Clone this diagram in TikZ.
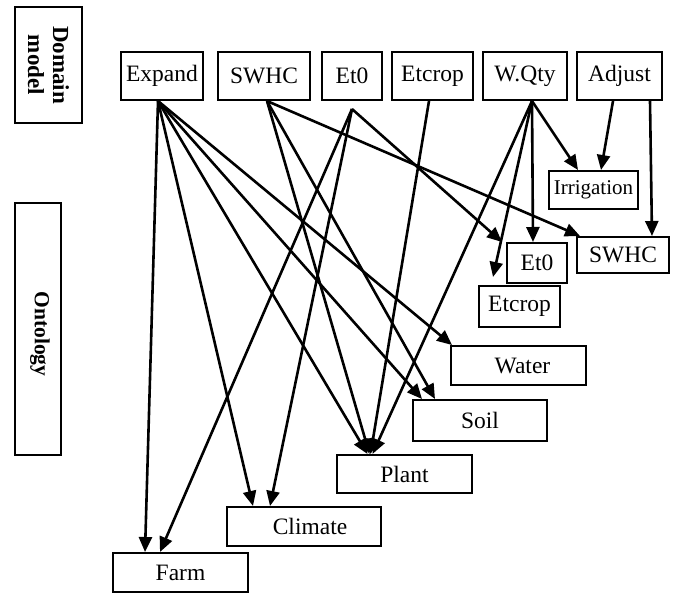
\documentclass[tikz,border=0pt]{standalone}
\usepackage{fontspec}
\setmainfont{Liberation Serif}
\usetikzlibrary{arrows.meta}
\begin{document}
\begin{tikzpicture}[x=1pt,y=-1pt,
  box/.style={draw=black,line width=2pt,inner sep=0pt,font=\fontsize{23.5}{27}\selectfont},
  lab/.style={draw=black,line width=2pt,inner sep=0pt},
  conn/.style={line width=2.6pt,-{Triangle[length=15pt,width=13pt]}}]
\useasboundingbox (0,0) rectangle (675,592);
% side labels
\node[lab,minimum width=67pt,minimum height=116pt] (dm) at (48.5,65) {};
\node[rotate=-90,align=center,font=\bfseries\fontsize{23}{25}\selectfont] (dmt) at (dm.center) {Domain\\model};
\node[lab,minimum width=46pt,minimum height=252pt] (on) at (38,329) {};
\node[rotate=-90,font=\bfseries\fontsize{21.5}{24}\selectfont] (ont) at (40,334) {Ontology};
% top row
\node[box,minimum width=82pt,minimum height=48pt] (expand) at (162,76) {Expand};
\node[box,minimum width=92pt,minimum height=48pt] (swhc) at (264,76) {SWHC};
\node[box,minimum width=60pt,minimum height=48pt] (et0) at (352,76) {Et0};
\node[box,minimum width=81pt,minimum height=48pt] (etcrop) at (432.5,76) {Etcrop};
\node[box,minimum width=84pt,minimum height=48pt] (wqty) at (525,76) {W.Qty};
\node[box,minimum width=85pt,minimum height=48pt] (adjust) at (619.5,76) {Adjust};
% ontology
\node[box,minimum width=89pt,minimum height=38pt,font=\fontsize{21}{24}\selectfont] (irr) at (593.5,190) {Irrigation};
\node[box,minimum width=60pt,minimum height=40pt] (et0b) at (537,263) {Et0};
\node[box,minimum width=92pt,minimum height=36pt] (swhcb) at (623,255) {SWHC};
\node[box,minimum width=81pt,minimum height=41pt] (etcropb) at (519.5,306.5) {Etcrop};
\node[box,minimum width=135pt,minimum height=39pt] (water) at (518.5,365.5) {\hspace*{8pt}Water};
\node[box,minimum width=134pt,minimum height=41pt] (soil) at (480,420.5) {Soil};
\node[box,minimum width=135pt,minimum height=38pt] (plant) at (404.5,474) {Plant};
\node[box,minimum width=154pt,minimum height=39pt] (climate) at (304,526.5) {\hspace*{12pt}Climate};
\node[box,minimum width=135pt,minimum height=39pt] (farm) at (180.5,572.5) {Farm};
% connectors
\draw[conn] ([xshift=-4pt]expand.south) -- ([xshift=-35.5pt]farm.north);
\draw[conn] ([xshift=-4pt]expand.south) -- ([xshift=-51pt]climate.north);
\draw[conn] ([xshift=-4pt]expand.south) -- ([xshift=-37pt]plant.north);
\draw[conn] ([xshift=-4pt]expand.south) -- ([xshift=-58pt]soil.north);
\draw[conn] ([xshift=-4pt]expand.south) -- ([xshift=-66.5pt]water.north);
\draw[conn] ([xshift=3pt]swhc.south) -- ([xshift=-35pt]plant.north);
\draw[conn] ([xshift=3pt]swhc.south) -- ([xshift=-45pt]soil.north);
\draw[conn] ([xshift=3pt]swhc.south) -- ([xshift=-43pt]swhcb.north);
\draw[conn] ([yshift=-8pt]et0.south) -- ([xshift=-20.5pt]farm.north);
\draw[conn] ([yshift=-8pt]et0.south) -- ([xshift=-34pt]climate.north);
\draw[conn] ([yshift=-8pt]et0.south) -- ([xshift=-35pt]et0b.north);
\draw[conn] ([xshift=-3.5pt]etcrop.south) -- ([xshift=-34pt]plant.north);
\draw[conn] ([xshift=7pt]wqty.south) -- ([xshift=-32pt]plant.north);
\draw[conn] ([xshift=7pt]wqty.south) -- ([xshift=-15.5pt]irr.north);
\draw[conn] ([xshift=7pt]wqty.south) -- ([xshift=-4pt]et0b.north);
\draw[conn] ([xshift=7pt]wqty.south) -- ([xshift=-26.5pt,yshift=8pt]etcropb.north);
\draw[conn] ([xshift=-6.5pt]adjust.south) -- ([xshift=7.5pt]irr.north);
\draw[conn] ([xshift=30.5pt]adjust.south) -- ([xshift=29pt]swhcb.north);
\end{tikzpicture}
\end{document}
